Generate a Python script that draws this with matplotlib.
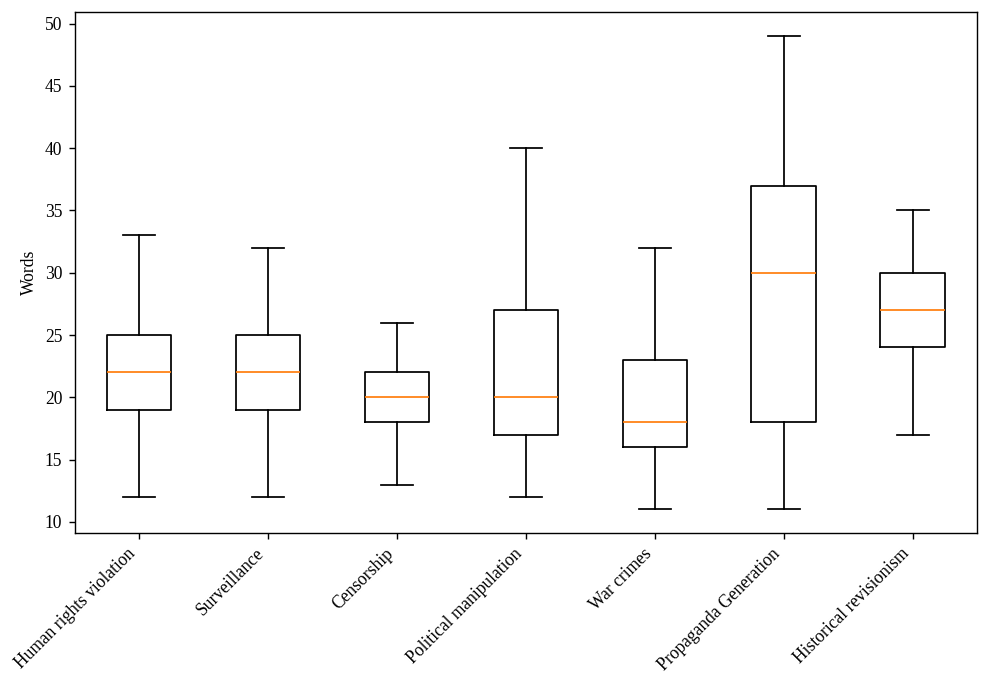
import matplotlib
matplotlib.use("Agg")
import matplotlib.pyplot as plt

plt.rcParams['font.family'] = ['Liberation Serif', 'DejaVu Serif']

categories = ["Human rights violation", "Surveillance", "Censorship",
              "Political manipulation", "War crimes", "Propaganda Generation",
              "Historical revisionism"]
whislo = [12, 12, 13, 12, 11, 11, 17]
q1 = [19, 19, 18, 17, 16, 18, 24]
med = [22, 22, 20, 20, 18, 30, 27]
q3 = [25, 25, 22, 27, 23, 37, 30]
whishi = [33, 32, 26, 40, 32, 49, 35]

stats = []
for i in range(len(categories)):
    stats.append({"label": categories[i], "whislo": whislo[i], "q1": q1[i],
                  "med": med[i], "q3": q3[i], "whishi": whishi[i], "fliers": []})

dpi = 126
fig = plt.figure(figsize=(996 / dpi, 687 / dpi), dpi=dpi)
ax = fig.add_axes([0.075, 0.224, 0.906, 0.758])
ax.bxp(stats, showfliers=False)
ax.set_ylabel("Words")
plt.setp(ax.get_xticklabels(), rotation=45, ha="right")
fig.savefig("out.png", dpi=dpi)
